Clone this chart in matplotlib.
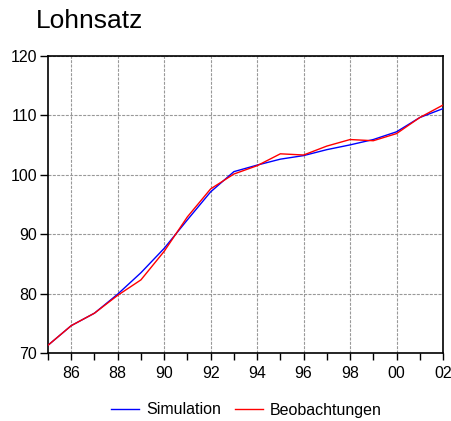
import matplotlib
matplotlib.use("Agg")
import matplotlib.pyplot as plt
from matplotlib.ticker import MultipleLocator

plt.rcParams['font.family'] = ['Liberation Sans', 'DejaVu Sans']

years = list(range(1985, 2003))
simulation = [71.3, 74.6, 76.7, 79.9, 83.5, 87.6, 92.4, 97.1, 100.5, 101.6,
              102.6, 103.2, 104.2, 105.0, 105.9, 107.2, 109.6, 111.1]
beobachtungen = [71.3, 74.6, 76.7, 79.7, 82.3, 87.1, 92.9, 97.6, 100.1, 101.5,
                 103.5, 103.3, 104.8, 105.9, 105.7, 106.9, 109.6, 111.7]
xtick_years = list(range(1986, 2003, 2))
xtick_labels = [f"{y % 100:02d}" for y in xtick_years]
yticks = [70, 80, 90, 100, 110, 120]

fig = plt.figure(figsize=(4.52, 4.21), dpi=100)
ax = fig.add_axes([48/452, 1-353/421, (443-48)/452, (353-55.7)/421])

ax.plot(years, simulation, color='#0000ff', lw=1.0, label='Simulation', zorder=3)
ax.plot(years, beobachtungen, color='#ff0000', lw=1.0, label='Beobachtungen', zorder=4)

ax.set_xlim(1985, 2002)
ax.set_ylim(70, 120)
ax.set_xticks(xtick_years)
ax.set_xticklabels(xtick_labels)
ax.xaxis.set_minor_locator(MultipleLocator(1))
ax.set_yticks(yticks)

ax.grid(True, which='major', color='#999999', linestyle=(0, (2.7, 1.2)), lw=0.8)
ax.tick_params(axis='x', which='both', direction='out', length=5, width=1, labelsize=11.5, pad=4)
ax.tick_params(axis='y', which='major', direction='out', length=6, width=1, labelsize=11.5, pad=2)
ax.tick_params(axis='y', which='minor', left=False)
for s in ax.spines.values():
    s.set_linewidth(1.2)
    s.set_color('black')

fig.text(36/452, 1-28/421, 'Lohnsatz', fontsize=19, ha='left', va='baseline')

fig.legend(loc='center', bbox_to_anchor=(0.545, 1-410/421), ncol=2, frameon=False,
           fontsize=11.5, handlelength=1.75, handletextpad=0.45, columnspacing=0.9)

fig.savefig('out.png', dpi=100)
